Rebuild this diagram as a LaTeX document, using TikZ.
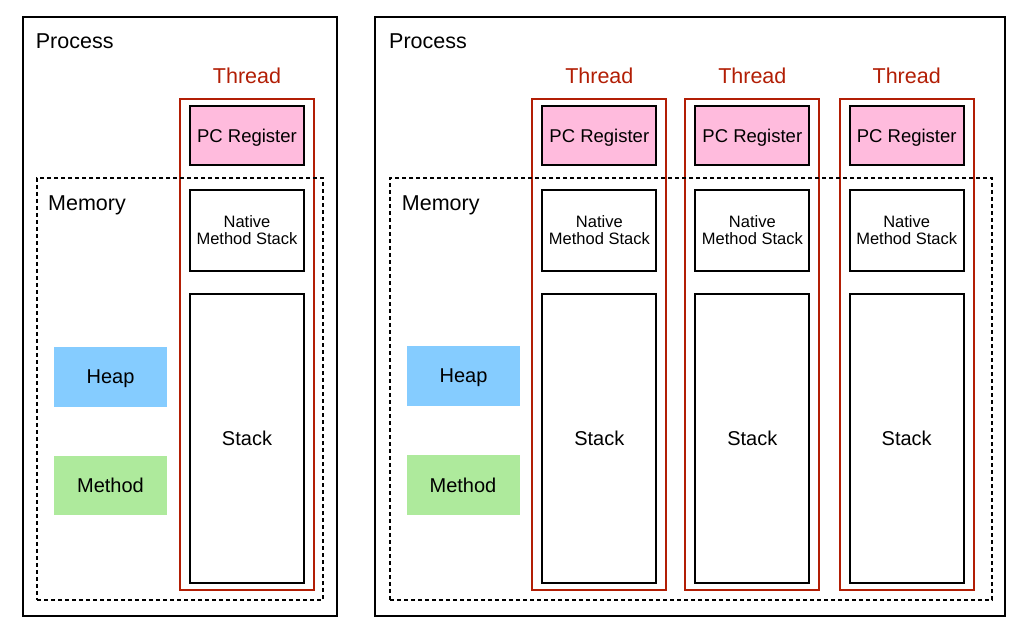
\documentclass[tikz,border=0pt]{standalone}
\usepackage{fontspec}
\setmainfont{Liberation Sans}
\definecolor{thrred}{HTML}{B21E05}
\definecolor{pcpink}{HTML}{FFBBDD}
\definecolor{heapblue}{HTML}{85CCFF}
\definecolor{methgreen}{HTML}{AEEA9C}
\tikzset{
  procbox/.style={draw=black, line width=2pt, inner sep=0pt, outer sep=0pt},
  membox/.style={draw=black, line width=1.5pt, dash pattern=on 4pt off 3pt, inner sep=0pt, outer sep=0pt},
  thrbox/.style={draw=thrred, line width=2pt, inner sep=0pt, outer sep=0pt, minimum width=134pt, minimum height=490.5pt},
  innerbox/.style={draw=black, line width=2pt, fill=white, inner sep=0pt, outer sep=0pt, minimum width=114pt, align=center},
  pcbox/.style={innerbox, fill=pcpink, minimum height=58.7pt, text depth=0pt, font=\fontsize{18.5}{21}\selectfont},
  natbox/.style={innerbox, minimum height=81pt, font=\fontsize{16.5}{17}\selectfont},
  stkbox/.style={innerbox, minimum height=288.2pt, text depth=0pt, font=\fontsize{20}{23}\selectfont},
  areabox/.style={inner sep=0pt, outer sep=0pt, minimum width=113pt, minimum height=59.5pt, text depth=0pt, font=\fontsize{20}{23}\selectfont},
  biglabel/.style={inner sep=0pt, anchor=base west, font=\fontsize{21.5}{24}\selectfont},
  thrlabel/.style={inner sep=0pt, anchor=base, text=thrred, font=\fontsize{21.5}{24}\selectfont},
}
\begin{document}
\begin{tikzpicture}[x=1pt,y=-1pt]
\useasboundingbox (0,0) rectangle (1029,628);
% ---------- left process ----------
\node[procbox, minimum width=314pt, minimum height=599pt] (procA) at (180,316.5) {};
\node[biglabel] (procAlbl) at (35.7,49) {Process};
\node[thrbox] (thrA) at (247,344.25) {};
\node[thrlabel] (thrAlbl) at (247,84) {Thread};
\node[pcbox] (pcA) at (247,135.35) {PC Register};
\node[natbox] (natA) at (247,230.5) {Native\\Method Stack};
\node[stkbox] (stkA) at (247,438.6) {Stack};
\node[membox, minimum width=286pt, minimum height=422pt] (memA) at (180,389) {};
\node[biglabel] (memAlbl) at (48,211) {Memory};
\node[areabox, fill=heapblue] (heapA) at (110.5,377) {Heap};
\node[areabox, fill=methgreen] (methA) at (110.5,485.5) {Method};
% ---------- right process ----------
\node[procbox, minimum width=630.5pt, minimum height=599pt] (procB) at (689.75,316.5) {};
\node[biglabel] (procBlbl) at (389,49) {Process};
\foreach \cx/\id in {599.35/1,752.35/2,906.7/3}{
  \node[thrbox] (thrB\id) at (\cx,344.25) {};
  \node[thrlabel] (thrB\id lbl) at (\cx,84) {Thread};
  \node[pcbox] (pcB\id) at (\cx,135.35) {PC Register};
  \node[natbox] (natB\id) at (\cx,230.5) {Native\\Method Stack};
  \node[stkbox] (stkB\id) at (\cx,438.6) {Stack};
}
\node[membox, minimum width=602pt, minimum height=422pt] (memB) at (691,389) {};
\node[biglabel] (memBlbl) at (401.7,211) {Memory};
\node[areabox, fill=heapblue] (heapB) at (463.5,376) {Heap};
\node[areabox, fill=methgreen] (methB) at (463,485) {Method};
\end{tikzpicture}
\end{document}
